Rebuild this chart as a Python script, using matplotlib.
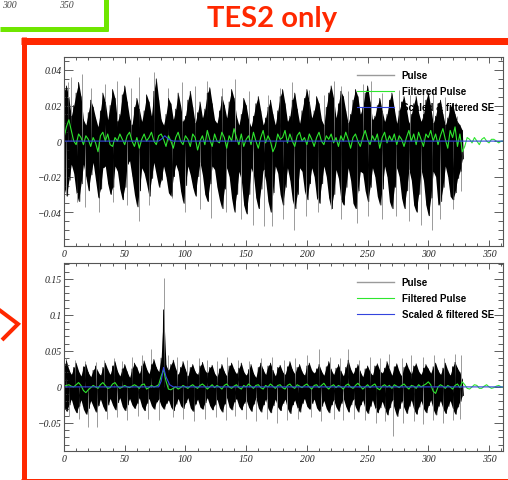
import matplotlib.pyplot as plt
import numpy as np
from matplotlib.lines import Line2D

W, H = 508, 481
RED = '#ff2800'
LIME = '#6fe600'

# --- upper panel (values in units of 1e-3) ---
# black trace: upper / lower extent per 2-unit bin, x = 0..328
top_hi = [28, 31, 24, 14, 20, 27, 33, 25, 12, 9, 16, 23, 19, 13, 8, 17, 27, 22, 12, 20,
          29, 24, 11, 15, 26, 31, 22, 13, 9, 19, 24, 18, 11, 17, 26, 22, 14, 28, 35, 23,
          12, 9, 15, 24, 21, 12, 18, 27, 20, 11, 14, 23, 28, 19, 10, 16, 22, 13, 18, 27,
          30, 21, 12, 10, 17, 25, 20, 13, 22, 29, 24, 14, 9, 15, 24, 20, 12, 8, 14, 21,
          25, 17, 9, 13, 19, 23, 15, 9, 17, 25, 29, 21, 11, 14, 23, 27, 18, 10, 17, 24,
          29, 22, 13, 17, 25, 21, 12, 9, 19, 27, 31, 24, 13, 21, 28, 25, 17, 10, 15, 23,
          29, 25, 15, 19, 27, 31, 22, 12, 14, 20, 24, 17, 11, 15, 23, 27, 18, 10, 17, 22,
          25, 18, 10, 15, 21, 25, 16, 11, 15, 23, 27, 19, 10, 14, 21, 23, 15, 9, 13, 19,
          21, 15, 11, 9, 6]
top_lo = [-26, -31, -22, -13, -18, -29, -34, -24, -13, -20, -28, -19, -12, -22, -32,
          -27, -15, -14, -24, -30, -26, -14, -17, -27, -33, -26, -13, -11, -20, -30,
          -37, -28, -15, -18, -24, -31, -21, -12, -19, -26, -22, -14, -20, -29, -31,
          -20, -13, -17, -28, -35, -25, -14, -19, -26, -31, -20, -12, -19, -30, -34,
          -24, -14, -16, -26, -33, -38, -27, -15, -20, -32, -40, -30, -17, -22, -36,
          -41, -30, -15, -19, -32, -38, -27, -16, -22, -34, -40, -29, -14, -18, -30,
          -36, -26, -15, -22, -33, -38, -30, -15, -17, -28, -33, -24, -15, -20, -32,
          -35, -24, -14, -20, -32, -38, -30, -16, -21, -33, -36, -26, -15, -22, -35,
          -38, -28, -17, -18, -28, -34, -26, -15, -20, -31, -36, -27, -14, -20, -34,
          -38, -26, -15, -20, -32, -38, -28, -16, -22, -36, -40, -30, -16, -22, -36,
          -42, -32, -17, -20, -36, -34, -26, -14, -20, -31, -33, -29, -21, -17, -10]
# grey spikes of the pulse
top_spike_x = [3, 6, 15, 22, 34, 44, 55, 62, 74, 86, 97, 108, 118, 130, 141, 152, 168,
               178, 188, 202, 214, 222, 228, 234, 246, 253, 262, 276, 285, 296, 304,
               314, 324,
               2, 11, 17, 29, 40, 52, 62, 70, 89, 100, 112, 121, 133, 146, 156, 165,
               171, 180, 189, 199, 209, 220, 228, 241, 250, 262, 273, 284, 294, 303,
               310, 320, 327]
top_spike_y = [33, 36, 38, 30, 32, 34, 30, 36, 39, 30, 33, 31, 34, 30, 35, 28, 26,
               30, 33, 29, 26, 34, 31, 28, 32, 34, 27, 29, 26, 27, 29, 25, 14,
               -30, -34, -37, -40, -34, -36, -45, -36, -32, -40, -38, -43, -40, -44,
               -47, -48, -48, -44, -50, -42, -40, -38, -44, -46, -42, -44, -42, -45,
               -47, -50, -44, -38, -28]
# filtered pulse, x = 0..362 step 2
top_filt = [2, 8, 12, 6, 0, -2, 4, 2, -2, 3, 1, -3, 2, -1, -6, 3, 5, 0, 4, -2,
            -3, 2, 0, 4, 1, -2, 3, 5, 0, -3, 2, -4, 1, 4, 0, 2, 5, 0, -2, 3,
            4, 1, -3, 3, 0, -4, 2, 5, 0, -2, 3, 1, -3, 4, 2, -5, 0, 3, -2, 6,
            1, -3, 4, 0, -1, 5, 2, -4, 3, 0, 7, 2, -2, 4, -3, 1, 3, -2, 5, 0,
            -4, 2, 6, -1, 3, 0, -6, -3, 4, 1, 2, 6, -1, 4, 0, -3, 3, 5, 0, 2,
            -2, 4, 1, -3, 2, 5, 0, -2, 3, 1, 4, -1, 2, -3, 3, 0, 5, 1, -4, 2,
            4, 0, -3, 2, 6, 1, -2, 3, 0, 4, -4, 2, 5, -1, 3, 0, 4, -2, 3, 1,
            -3, 2, 6, 0, 4, -2, 5, 1, -3, 4, 2, 6, 0, 4, -2, 3, 7, 1, -4, 6,
            2, 8, -3, 4, -6, -3, 2, 1, -1, 2, 0, -2, 1, 2, 0, -1, 1, 1, 0, -1,
            0, 0]
# scaled & filtered single electron template
top_se_x = [0, 78, 81, 83, 86, 90, 362]
top_se_y = [0, 0, 1.5, 3, 1, 0, 0]

# --- lower panel (values in units of 1e-3) ---
bot_hi = [30, 36, 24, 17, 27, 33, 22, 15, 28, 31, 20, 14, 23, 29, 21, 16, 27, 33, 24, 17,
          29, 35, 22, 15, 25, 31, 21, 13, 25, 33, 27, 18, 29, 36, 25, 18, 31, 38, 27, 21,
          40, 107, 30, 23, 31, 37, 25, 17, 27, 35, 24, 15, 27, 31, 21, 17, 29, 34, 23, 19,
          27, 30, 19, 14, 25, 31, 21, 15, 29, 33, 24, 18, 26, 33, 21, 16, 24, 31, 19, 13,
          27, 33, 24, 17, 29, 33, 23, 15, 27, 30, 21, 17, 28, 35, 24, 18, 27, 31, 21, 16,
          29, 33, 23, 19, 25, 31, 22, 16, 28, 35, 24, 17, 26, 31, 22, 15, 27, 37, 25, 18,
          26, 31, 21, 14, 25, 29, 21, 16, 29, 32, 23, 19, 26, 35, 25, 16, 28, 32, 21, 15,
          27, 33, 24, 18, 29, 32, 22, 17, 26, 31, 25, 19, 28, 33, 23, 17, 26, 33, 23, 16,
          28, 34, 26, 20, 10]
bot_lo = [-28, -34, -25, -17, -29, -36, -27, -18, -31, -38, -30, -19, -27, -35, -26,
          -17, -27, -34, -25, -16, -25, -32, -22, -15, -27, -33, -25, -16, -25, -30,
          -23, -15, -27, -33, -23, -16, -26, -31, -21, -17, -26, -31, -23, -18, -28,
          -33, -24, -16, -26, -30, -22, -15, -29, -34, -24, -17, -28, -31, -22, -15,
          -26, -32, -25, -17, -29, -35, -24, -15, -28, -32, -21, -16, -27, -32, -23,
          -18, -28, -34, -24, -15, -29, -35, -25, -17, -30, -36, -26, -17, -28, -33,
          -23, -17, -30, -37, -25, -18, -29, -35, -23, -16, -27, -31, -23, -17, -29,
          -34, -27, -19, -30, -36, -25, -18, -28, -34, -23, -16, -27, -35, -25, -17,
          -28, -35, -25, -18, -31, -37, -27, -18, -29, -36, -29, -20, -30, -39, -29,
          -18, -30, -41, -30, -19, -29, -37, -27, -18, -31, -38, -28, -19, -30, -36,
          -26, -18, -31, -39, -27, -19, -30, -37, -27, -19, -30, -38, -28, -20, -12]
bot_spike_x = [2, 9, 17, 26, 33, 41, 48, 56, 64, 72, 82, 86, 93, 101, 111, 118, 126,
               134, 143, 152, 162, 171, 181, 190, 200, 210, 219, 227, 234, 243, 252,
               260, 268, 278, 286, 296, 305, 313, 322, 327,
               4, 12, 20, 27, 35, 44, 52, 61, 69, 78, 90, 98, 107, 116, 125, 133, 141,
               150, 158, 167, 175, 184, 193, 203, 212, 222, 230, 239, 248, 257, 264,
               271, 279, 288, 296, 304, 312, 320, 326]
bot_spike_y = [40, 38, 36, 34, 38, 40, 36, 42, 44, 53, 151, 44, 42, 38, 40, 37, 36,
               42, 38, 36, 40, 42, 38, 40, 44, 53, 42, 40, 53, 38, 42, 40, 46, 40,
               44, 42, 44, 40, 46, 44,
               -40, -44, -56, -56, -44, -42, -46, -40, -44, -46, -42, -44, -48, -44,
               -42, -46, -40, -44, -48, -44, -50, -46, -44, -42, -48, -44, -46, -44,
               -46, -50, -48, -68, -50, -48, -52, -46, -50, -46, -44]
bot_filt = [1, 2, 3, 1, 0, 3, 6, 2, -5, -8, -4, -1, 2, 0, -2, 3, 6, 2, -2, -1,
            4, 6, 1, -2, 0, 2, 0, -1, 1, 3, 1, -2, 3, 4, -3, -1, 2, 0, 1, 3,
            15, 24, 8, -3, -4, -2, 0, -3, -1, 2, 0, -2, 1, 3, 0, -2, 2, 4, 1, -3,
            0, 3, -1, 2, 0, -3, 2, 4, 0, -2, 1, 3, -1, -3, 2, 0, 4, 1, -2, 2,
            3, -1, -3, 2, 0, 4, 1, -2, 2, 3, -1, -3, 2, 4, 0, -2, 3, 1, -1, 2,
            4, 0, -3, 2, 3, -1, 2, 5, 0, -3, 1, 3, -1, 2, 0, -3, 2, 4, 0, -2,
            2, 5, 1, -3, 0, 3, -1, 2, 4, -2, -4, 1, 3, 0, 2, -2, 3, 1, -1, 2,
            4, 0, -3, 2, 1, -2, 3, 0, 2, 4, 7, 3, -6, -9, 0, 3, 1, -2, 2, 0,
            -3, 2, 4, -1, 7, 3, -2, -3, 0, 3, 2, -2, -2, 1, 3, 0, -2, -1, 1, 2,
            0, -1]
bot_se_x = [0, 78, 80, 82, 84, 87, 90, 362]
bot_se_y = [0, 0, 8, 27, 14, 3, 0, 0]

x_ticks = [0, 50, 100, 150, 200, 250, 300, 350]
top_yticks = [-0.04, -0.02, 0, 0.02, 0.04]
top_ylabels = ['\u22120.04', '\u22120.02', '0', '0.02', '0.04']
bot_yticks = [-0.05, 0, 0.05, 0.1, 0.15]
bot_ylabels = ['\u22120.05', '0', '0.05', '0.1', '0.15']
legend_labels = ['Pulse', 'Filtered Pulse', 'Scaled & filtered SE']


def px(x, y):
    return x / W, 1 - y / H


def panel(ax, hi, lo, sx, sy, filt, se_x, se_y, ylim, yticks, ylabels, yminor, leg_y):
    hi = np.array(hi) * 1e-3
    lo = np.array(lo) * 1e-3
    xb = np.arange(len(hi)) * 2
    # trace swings between the upper and lower extent of every bin
    xs = np.empty(2 * len(hi))
    ys = np.empty(2 * len(hi))
    xs[0::2] = xb
    xs[1::2] = xb + 1
    ys[0::2] = hi
    ys[1::2] = lo
    ax.vlines(sx, 0, np.array(sy) * 1e-3, color='#9a9a9a', lw=0.7)
    ax.fill_between(xb, lo, hi, color='black', lw=0)
    ax.plot(xs, ys, color='black', lw=0.6)
    g, = ax.plot(np.arange(len(filt)) * 2, np.array(filt) * 1e-3, color='#2ee62e', lw=0.8)
    b, = ax.plot(se_x, np.array(se_y) * 1e-3, color='#3344dd', lw=0.8)
    spikes_h = Line2D([], [], color='#9a9a9a', lw=1)
    ax.legend([spikes_h, g, b], legend_labels, loc='upper left',
              bbox_to_anchor=px(357, leg_y), bbox_transform=fig.transFigure,
              frameon=False, borderpad=0, borderaxespad=0, handlelength=3.8,
              handletextpad=0.8, labelspacing=0.62,
              prop={'family': 'Liberation Sans', 'weight': 'bold', 'size': 7})

    ax.set_xlim(0, 361.5)
    ax.set_ylim(*ylim)
    ax.set_xticks(x_ticks)
    ax.set_xticklabels([str(t) for t in x_ticks])
    ax.set_xticks(np.arange(0, 361, 10), minor=True)
    ax.set_yticks(yticks)
    ax.set_yticklabels(ylabels)
    ax.set_yticks(yminor, minor=True)
    ax.tick_params(which='both', direction='in', top=True, right=True,
                   colors='#444444', labelcolor='#222222', width=0.6)
    ax.tick_params(axis='y', which='major', length=6.5, pad=1.5)
    ax.tick_params(axis='y', which='minor', length=3.5)
    ax.tick_params(axis='x', which='major', length=4.5, pad=2)
    ax.tick_params(axis='x', which='minor', length=2.5)
    for lab in ax.get_xticklabels() + ax.get_yticklabels():
        lab.set_family('Liberation Serif')
        lab.set_style('italic')
        lab.set_fontsize(7)
    for s in ax.spines.values():
        s.set_color('#555555')
        s.set_linewidth(0.8)


fig = plt.figure(figsize=(W / 100, H / 100), dpi=100)

ax1 = fig.add_axes([64 / W, 1 - 247 / H, 439 / W, 189 / H])
panel(ax1, top_hi, top_lo, top_spike_x, top_spike_y, top_filt, top_se_x, top_se_y,
      (-0.059, 0.0473), top_yticks, top_ylabels, np.arange(-0.055, 0.046, 0.005), 71)

ax2 = fig.add_axes([64 / W, 1 - 452 / H, 439 / W, 188 / H])
panel(ax2, bot_hi, bot_lo, bot_spike_x, bot_spike_y, bot_filt, bot_se_x, bot_se_y,
      (-0.089, 0.172), bot_yticks, bot_ylabels, np.arange(-0.08, 0.171, 0.01), 278)

# red frame around both panels, the ">" marker and the heading
def fig_line(xp, yp, color, lw_px):
    xs, ys = zip(*[px(x, y) for x, y in zip(xp, yp)])
    fig.add_artist(Line2D(xs, ys, color=color, lw=lw_px * 0.72,
                          solid_capstyle='butt', solid_joinstyle='miter'))

fig_line([21, 508], [41.5, 41.5], RED, 7)
fig_line([23.5, 23.5], [38, 481], RED, 5)
fig_line([21, 508], [481.5, 481.5], RED, 5)
fig_line([-2, 18, 2], [310, 325, 341], RED, 4)

# corner of the neighbouring green box
fig_line([0, 108], [29.5, 29.5], LIME, 5)
fig_line([105.5, 105.5], [0, 32], LIME, 5)
for x0, t in [(9, '300'), (66, '350')]:
    fig.text(*px(x0, 5), t, ha='center', va='center', fontsize=7,
             family='Liberation Serif', style='italic', color='#444444')

fig.text(*px(272, 19.5), 'TES2 only', ha='center', va='center', fontsize=21,
         fontweight='bold', color=RED, family='Lato')

fig.savefig('out.png', dpi=100)
